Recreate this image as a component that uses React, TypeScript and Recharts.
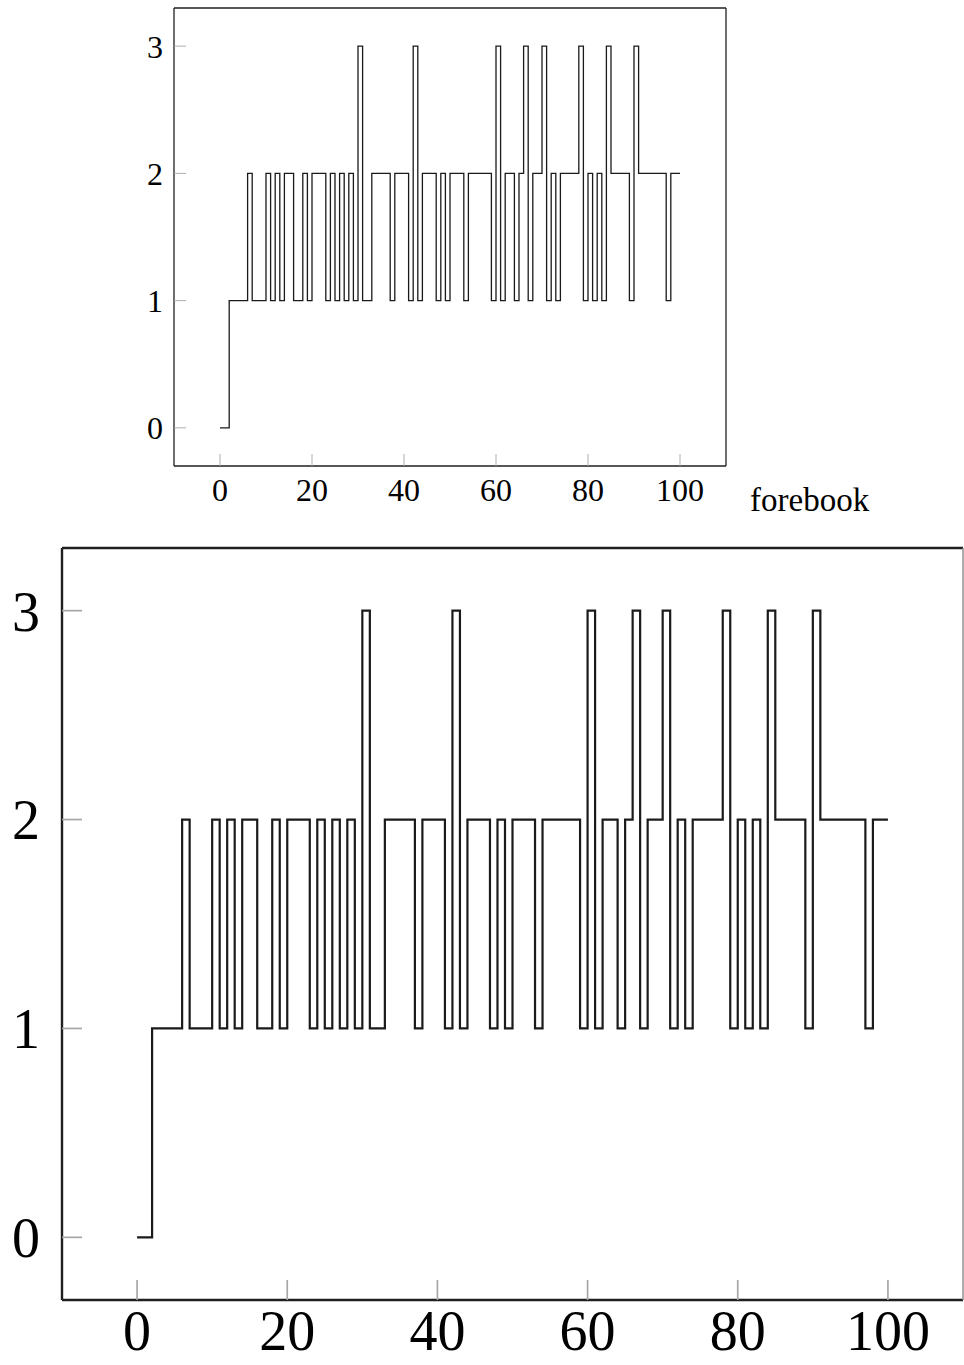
import React from 'react';
import { LineChart, Line, XAxis, YAxis } from 'recharts';

// step positions along the x axis
const steps = [
  0, 1, 2, 3, 4, 5, 6, 7, 8, 9, 10, 11, 12, 13, 14, 15, 16, 17, 18, 19, 20,
  21, 22, 23, 24, 25, 26, 27, 28, 29, 30, 31, 32, 33, 34, 35, 36, 37, 38, 39, 40,
  41, 42, 43, 44, 45, 46, 47, 48, 49, 50, 51, 52, 53, 54, 55, 56, 57, 58, 59, 60,
  61, 62, 63, 64, 65, 66, 67, 68, 69, 70, 71, 72, 73, 74, 75, 76, 77, 78, 79, 80,
  81, 82, 83, 84, 85, 86, 87, 88, 89, 90, 91, 92, 93, 94, 95, 96, 97, 98, 99, 100,
];

// level held from each step until the next one
const levels = [
  0, 0, 1, 1, 1, 1, 2, 1, 1, 1, 2, 1, 2, 1, 2, 2, 1, 1, 2, 1, 2,
  2, 2, 1, 2, 1, 2, 1, 2, 1, 3, 1, 1, 2, 2, 2, 2, 1, 2, 2, 2,
  1, 3, 1, 2, 2, 2, 1, 2, 1, 2, 2, 2, 1, 2, 2, 2, 2, 2, 1, 3,
  1, 2, 2, 1, 2, 3, 1, 2, 2, 3, 1, 2, 1, 2, 2, 2, 2, 3, 1, 2,
  1, 2, 1, 3, 2, 2, 2, 2, 1, 3, 2, 2, 2, 2, 2, 2, 1, 2, 2, 2,
];

const xTicks = [0, 20, 40, 60, 80, 100];
const yTicks = [0, 1, 2, 3];
const xDomain = [-10, 110];
const yDomain = [-0.3, 3.3];
const axisName = 'forebook';

const data = steps.map((x, i) => ({ x, level: levels[i] }));

const FONT = '"Liberation Serif", "DejaVu Serif", serif';

type PanelProps = {
  top: number;
  width: number;
  height: number;
  margin: { top: number; right: number; bottom: number; left: number };
  fontSize: number;
  tickLen: number;
  xGap: number;
  yGap: number;
  lineWidth: number;
  frameWidth: number;
  rightFrame?: { stroke: string; strokeWidth: number };
  showName?: boolean;
};

const Panel: React.FC<PanelProps> = ({ top, width, height, margin, fontSize, tickLen, xGap, yGap, lineWidth, frameWidth, rightFrame, showName }) => {
  const tickLine = { stroke: '#a6a6a6', strokeWidth: frameWidth * 0.7 };
  const axisLine = { stroke: '#1f1f1f', strokeWidth: frameWidth };
  const tickStyle = { fill: '#000', fontSize, fontFamily: FONT };
  // axes take 1px each, so trim the margins by that much
  const m = { top: margin.top - 1, right: margin.right - 1, bottom: margin.bottom - 1, left: margin.left - 1 };

  const nameLabel = showName
    ? {
        content: (p: any) => {
          const vb = p.viewBox || { x: 0, y: 0, width: 0 };
          return (
            <text x={vb.x + vb.width + 24} y={vb.y + 45} fontSize={fontSize + 1} fontFamily={FONT} fill="#000">
              {axisName}
            </text>
          );
        },
      }
    : undefined;

  return (
    <div style={{ position: 'absolute', left: 0, top }}>
      <LineChart width={width} height={height} data={data} margin={m}>
        <XAxis
          dataKey="x"
          type="number"
          domain={xDomain}
          ticks={xTicks}
          interval={0}
          allowDataOverflow
          height={1}
          tickSize={-tickLen}
          tickMargin={tickLen + xGap}
          tickLine={tickLine}
          axisLine={axisLine}
          tick={tickStyle}
          label={nameLabel}
        />
        <XAxis
          xAxisId="top"
          orientation="top"
          type="number"
          domain={xDomain}
          ticks={xTicks}
          interval={0}
          allowDataOverflow
          height={1}
          tickSize={-tickLen}
          tickLine={tickLine}
          axisLine={axisLine}
          tick={false}
        />
        <YAxis
          type="number"
          domain={yDomain}
          ticks={yTicks}
          interval={0}
          allowDataOverflow
          width={1}
          tickSize={-tickLen}
          tickMargin={tickLen + yGap}
          tickLine={tickLine}
          axisLine={axisLine}
          tick={tickStyle}
        />
        <YAxis
          yAxisId="right"
          orientation="right"
          type="number"
          domain={yDomain}
          ticks={yTicks}
          interval={0}
          allowDataOverflow
          width={1}
          tickSize={-tickLen}
          tickLine={tickLine}
          axisLine={rightFrame || axisLine}
          tick={false}
        />
        <Line
          type="stepAfter"
          dataKey="level"
          stroke="#1a1a1a"
          strokeWidth={lineWidth}
          dot={false}
          isAnimationActive={false}
        />
      </LineChart>
    </div>
  );
};

export default function App() {
  return (
    <div style={{ position: 'absolute', left: 0, top: 0, width: 964, height: 1365, background: '#fff', overflow: 'hidden', fontFamily: FONT }}>
      <Panel
        top={0}
        width={964}
        height={530}
        margin={{ top: 8, right: 238, bottom: 64, left: 174 }}
        fontSize={32}
        tickLen={12}
        xGap={12}
        yGap={11}
        lineWidth={1.3}
        frameWidth={1.3}
        showName
      />
      <Panel
        top={520}
        width={964}
        height={845}
        margin={{ top: 28, right: 1, bottom: 65, left: 62 }}
        fontSize={56}
        tickLen={20}
        xGap={10}
        yGap={22}
        lineWidth={2.2}
        frameWidth={2.4}
        rightFrame={{ stroke: '#8c8c8c', strokeWidth: 1.4 }}
      />
    </div>
  );
}
